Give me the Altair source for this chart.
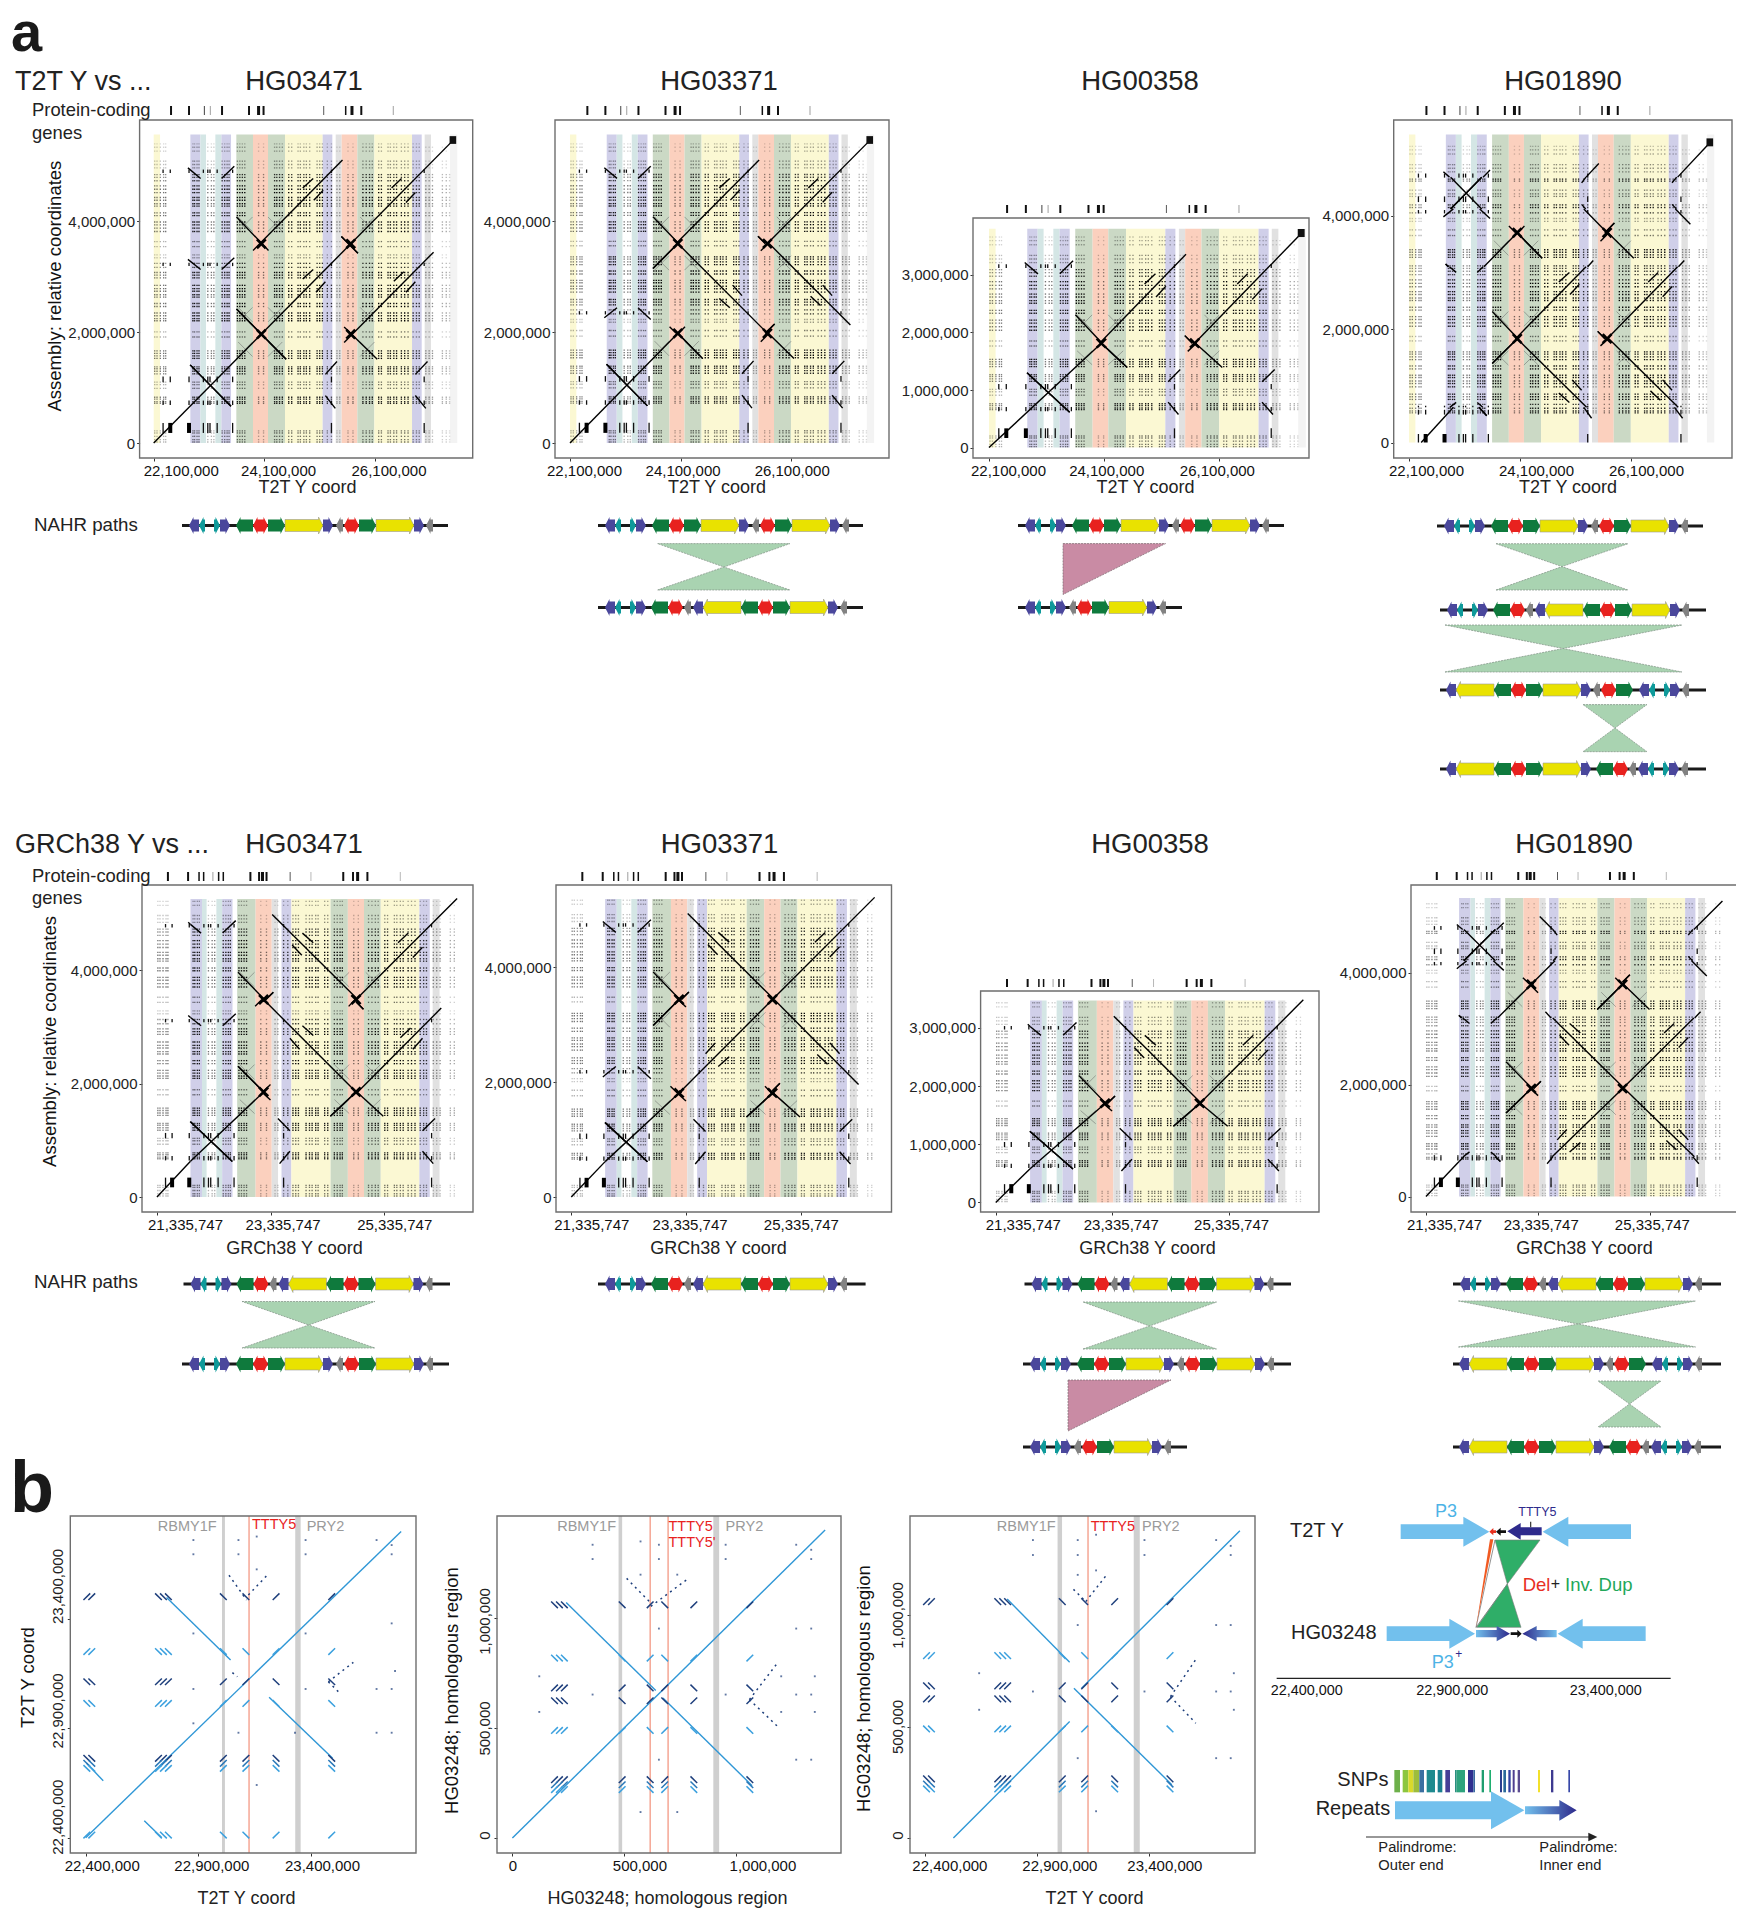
import altair as alt
import pandas as pd

alt.data_transformers.disable_max_rows()

PAGE_W, PAGE_H = 1728, 1904
FONT = "Liberation Sans"

# ---------- panel a: reference features (T2T Y, Mb) ----------
T2T_BANDS = [(22.100,22.215,"Y"),(22.764,22.945,"B"),(22.945,23.048,"T"),(23.217,23.326,"T"),(23.326,23.501,"B"),
             (23.597,23.899,"G"),(23.899,24.171,"R"),(24.171,24.479,"G"),(24.479,25.161,"Y"),(25.161,25.336,"B"),
             (25.397,25.505,"K"),(25.505,25.789,"R"),(25.789,26.097,"G"),(26.097,26.780,"Y"),(26.780,26.955,"B"),
             (27.009,27.124,"K"),(27.468,27.600,"L")]
GRC_BANDS = [(21.925,22.128,"B"),(22.128,22.209,"T"),(22.381,22.483,"T"),(22.483,22.665,"B"),(22.747,23.072,"G"),
             (23.072,23.356,"R"),(23.356,23.467,"K"),(23.528,23.701,"B"),(23.701,24.392,"Y"),(24.392,24.696,"G"),
             (24.696,24.980,"R"),(24.980,25.275,"G"),(25.275,25.955,"Y"),(25.955,26.138,"B"),(26.189,26.310,"K")]
BAND_COL = {"Y":"#fbf8d3","B":"#d0cfe9","T":"#d4e6e5","G":"#cbd9c5","R":"#fbd0be","K":"#e1e1e1","L":"#f3f3f3"}

T2T_GENES = [22.414,22.74,23.018,23.126,23.338,23.827,24.0,24.09,25.18,25.578,25.692,25.861,26.44]
T2T_GENE_W = [2,2,1,1,2,2,3,2,1,1.5,3,2,1]
T2T_GENE_O = [1,1,.8,.4,1,1,1,1,.7,1,1,1,.4]
GRC_GENES = [21.528,21.883,22.076,22.157,22.32,22.421,22.503,22.98,23.133,23.193,23.264,23.68,24.046,24.615,24.787,24.868,25.04,25.619]
GRC_GENE_W = [2,2,1.5,1.5,1,1.5,1.5,2,2,3,2,1,1,2,2,3,2,1]
GRC_GENE_O = [1,1,1,1,.4,1,1,1,1,1,1,.7,.3,1,1,1,1,.3]

# repeat positions seen as dot columns / rows
REPEATS = [22.118,22.16,22.22,22.28,22.317,22.81,22.84,22.885,22.92,23.08,23.145,23.19,23.34,23.386,23.43,23.465,
           23.616,23.66,23.706,23.75,24.0,24.09,24.29,24.33,24.38,24.43,24.546,24.6,24.715,24.757,24.82,24.866,24.926,
           25.06,25.107,25.156,25.246,25.32,25.42,25.47,25.62,25.71,25.89,25.95,26.01,26.06,26.176,26.225,26.345,26.388,
           26.45,26.5,26.587,26.647,26.708,26.8,26.86,26.91,27.03,27.09,27.15,27.33,27.4,27.46]
REPEAT_W = [.55,.55,.55,.55,.55,.9,.9,.9,.9,.55,.55,.55,.9,.9,.9,.9,
            1,1,1,1,.55,.55,1,1,1,1,1,1,1,1,1,1,1,
            1,1,1,.8,.8,.4,.4,.55,.55,1,1,1,1,1,1,1,1,
            1,1,1,1,1,.8,.8,.8,.45,.45,.45,.35,.35,.25]

# long self-alignments of the reference: x from a0 to a1 against y from b0 to b1
HOMOLOGY = [(23.9,25.52,25.55,27.17),(23.6,24.18,26.15,25.55),(23.6,24.5,24.5,23.6),(25.5,25.8,25.8,25.5),
            (22.76,23.5,23.5,22.76),(22.72,22.95,27.03,26.84),(23.33,23.56,26.84,27.06),(22.72,22.95,25.39,25.21),
            (23.33,23.56,25.21,25.42),(24.8,24.99,25.04,25.21),(26.41,26.59,26.67,26.84),(24.8,24.99,26.67,26.84),
            (25.0,25.17,26.45,26.63)]
LOOP_X = [23.76,24.3,25.97]
LOOP_Y = [26.02,24.4,23.78]
AMP_X = [22.27,22.4,22.74,23.0,23.08,23.12,23.25,23.53,25.32,27.0]
AMP_Y = [(22.37,.09),(22.82,.04),(23.24,.05),(25.3,.03),(26.97,.03)]
CORE = [24.05,25.67]

IDENT = [(22.0,27.7,22.0,27.7)]
GRC_MAP = [(22.1,22.764,21.335,21.925),(22.764,24.05,21.925,23.213),(25.67,24.05,23.213,24.84),(25.67,27.45,24.84,26.62)]

PATH1 = [(22.1,27.6,0,5.54)]
PATH2 = [(22.1,24.05,0,1.98),(25.67,24.05,1.98,3.6),(25.67,27.6,3.6,5.54)]
PATH3 = [(22.1,24.05,0,1.81),(25.67,27.6,1.81,3.8)]
PATH4 = [(22.32,22.9,0,.62),(25.3,24.05,.62,1.83),(25.67,26.94,1.83,3.1),(23.45,24.05,3.1,3.7),(25.67,25.25,3.7,4.12),
         (23.41,22.85,4.12,4.68),(26.94,27.6,4.68,5.37)]
PATH5 = [(22.1,24.05,0,1.85),(24.05,25.67,1.85,3.48),(25.67,27.45,3.48,5.26)]
PATH6 = [(22.1,24.05,0,1.81),(25.67,24.05,1.81,3.44),(25.67,27.45,3.44,5.22)]
PATH7 = [(22.1,24.05,0,1.70),(25.67,27.45,1.70,3.48)]
PATH8 = [(22.1,22.85,0,.71),(25.3,24.05,.71,1.93),(25.67,26.94,1.93,3.19),(23.45,24.05,3.19,3.79),(25.67,25.25,3.79,4.21),
         (23.41,22.85,4.21,4.77),(26.94,27.45,4.77,5.28)]

PANELS = [
 dict(f=(139.6,472.7,120,458),x0=22.1,xp=153.7,xs=55.2,yp=443,ys=55.4,yt=[0,2,4],path=PATH1,grc=False,top=5.57,gy=(106,115),off=[27,14,14],ytitle=(57.5,285.6),tx=(307,20.4)),
 dict(f=(555,889,120,458),x0=22.1,xp=570,xs=55.3,yp=443,ys=55.4,yt=[0,2,4],path=PATH2,grc=False,top=5.57,gy=(106,115),off=[14,2,.5],ytitle=None,tx=(716.5,20.4)),
 dict(f=(973,1309,218,458),x0=22.1,xp=989,xs=57.6,yp=447.6,ys=57.6,yt=[0,1,2,3],path=PATH3,grc=False,top=3.8,gy=(205,213),off=[19,2,-2.5],ytitle=None,tx=(1145,20.4)),
 dict(f=(1393.7,1732,120,458),x0=22.1,xp=1409,xs=55.5,yp=442.5,ys=56.7,yt=[0,2,4],path=PATH4,grc=False,top=5.43,gy=(106,115),off=[17,16,15],ytitle=None,tx=(1567.6,20.4)),
 dict(f=(142,473,885,1212),x0=21.335747,xp=157,xs=56.8,yp=1197,ys=56.75,yt=[0,2,4],path=PATH5,grc=True,top=5.25,gy=(872,881),off=[28,12,10],ytitle=(52.7,1041),tx=(294,27)),
 dict(f=(556,891.5,885,1212),x0=21.335747,xp=571.3,xs=57.4,yp=1197,ys=57.4,yt=[0,2,4],path=PATH6,grc=True,top=5.19,gy=(872,881),off=[20,3.5,0],ytitle=None,tx=(718,27)),
 dict(f=(980.6,1319,991,1212),x0=21.335747,xp=995.8,xs=58.2,yp=1202.4,ys=58.2,yt=[0,1,2,3],path=PATH7,grc=True,top=3.47,gy=(979,987),off=[27,8.6,2.5],ytitle=None,tx=(1147,27)),
 dict(f=(1411,1738,885,1212),x0=21.335747,xp=1426,xs=56.1,yp=1196.6,ys=56,yt=[0,2,4],path=PATH8,grc=True,top=5.33,gy=(872,880),off=[18,2.5,1.5],ytitle=None,tx=(1584,27)),
]

layers = []
FRAME = "#6e6e6e"

def blockmap(v, blocks):
    out = []
    for r0, r1, a0, a1 in blocks:
        lo, hi = min(r0, r1), max(r0, r1)
        if lo <= v <= hi:
            out.append(a0 + (v - r0) * (a1 - a0) / (r1 - r0))
    return out

def clip(v0, v1, lo, hi):
    if v0 == v1:
        return (0, 1) if lo <= v0 <= hi else None
    t0, t1 = (lo - v0) / (v1 - v0), (hi - v0) / (v1 - v0)
    a, b = max(min(t0, t1), 0), min(max(t0, t1), 1)
    return (a, b) if b > a else None

def segs(p0, q0, p1, q1, xb, yb):
    res = []
    for xr0, xr1, xa0, xa1 in xb:
        cx = clip(p0, p1, min(xr0, xr1), max(xr0, xr1))
        if not cx:
            continue
        for yr0, yr1, ya0, ya1 in yb:
            cy = clip(q0, q1, min(yr0, yr1), max(yr0, yr1))
            if not cy:
                continue
            a, b = max(cx[0], cy[0]), min(cx[1], cy[1])
            if b <= a:
                continue
            fx = lambda t: xa0 + (p0 + (p1 - p0) * t - xr0) * (xa1 - xa0) / (xr1 - xr0)
            fy = lambda t: ya0 + (q0 + (q1 - q0) * t - yr0) * (ya1 - ya0) / (yr1 - yr0)
            res.append(dict(x=fx(a)*1e6, y=fy(a)*1e6, x2=fx(b)*1e6, y2=fy(b)*1e6))
    return res

def panel_scales(fr, x0, xp, xs, yp, ys, y0=0.0):
    L, R, T, B = fr
    sx = alt.Scale(domain=[(x0 + (L - xp) / xs) * 1e6, (x0 + (R - xp) / xs) * 1e6], range=[L - 8, R - 8], nice=False, zero=False)
    sy = alt.Scale(domain=[(y0 + (yp - B) / ys) * 1e6, (y0 + (yp - T) / ys) * 1e6], range=[B - 8, T - 8], nice=False, zero=False)
    return sx, sy

def offs_expr(ticks, off):
    e = str(off[-1])
    for t, o in list(zip(ticks, off))[:-1][::-1]:
        e = f"datum.value=={t}?{o}:{e}"
    return alt.expr(e)

def seg_layer(rows, sx, sy, color, width, opacity=1, dash=None):
    if not rows:
        return
    kw = dict(color=color, strokeWidth=width, opacity=opacity, clip=False)
    if dash:
        kw["strokeDash"] = dash
    layers.append(alt.Chart(pd.DataFrame(rows)).mark_rule(**kw).encode(
        x=alt.X("x:Q", scale=sx, axis=None), x2="x2:Q",
        y=alt.Y("y:Q", scale=sy, axis=None), y2="y2:Q"))

def frame_layer(fr, sx, sy, xt, xfmt_off, yt, xtitle, tx, ytitle, ypos, yoff=None, yangle=None):
    L, R, T, B = fr
    df = pd.DataFrame([dict(x=sx.domain[0], x2=sx.domain[1], y=sy.domain[0], y2=sy.domain[1])])
    xa = dict(values=xt, format=",d", orient="bottom", offset=-(PAGE_H - (B - 8)), grid=False, domain=False, tickSize=3,
              tickColor="#333", labelFont=FONT, labelFontSize=15, labelColor="#111", labelPadding=2, labelFlush=False,
              labelOverlap=False, title=xtitle, titleFont=FONT, titleFontSize=18, titleFontWeight="normal",
              titleColor="#222", titleX=tx[0] - 8, titleY=tx[1], labelOffset=offs_expr(xt, xfmt_off))
    ya = dict(values=yt, format=",d", orient="left", offset=-(L - 8), grid=False, domain=False, tickSize=3, tickColor="#333",
              labelFont=FONT, labelFontSize=15, labelColor="#222", labelPadding=2, labelOverlap=False,
              titleFont=FONT, titleFontSize=18.5, titleFontWeight="normal", titleColor="#111",
              title=ytitle if ytitle else None)
    if ytitle:
        ya["titleX"] = ypos[0] + 7 - L
        ya["titleY"] = ypos[1] - 8
    if yangle is not None:
        ya["labelAngle"] = yangle
        ya["labelAlign"] = "center"
        ya["labelBaseline"] = "bottom"
    if yoff is not None:
        ya["labelOffset"] = offs_expr(yt, yoff)
    layers.append(alt.Chart(df).mark_rect(fill="transparent", stroke=FRAME, strokeWidth=1.4).encode(
        x=alt.X("x:Q", scale=sx, axis=alt.Axis(**xa)), x2="x2:Q",
        y=alt.Y("y:Q", scale=sy, axis=alt.Axis(**ya)), y2="y2:Q"))

for P in PANELS:
    fr = P["f"]
    sx, sy = panel_scales(fr, P["x0"], P["xp"], P["xs"], P["yp"], P["ys"])
    xb = GRC_MAP if P["grc"] else IDENT
    yb = P["path"]
    # bands
    bands = GRC_BANDS if P["grc"] else T2T_BANDS
    df = pd.DataFrame([dict(x=a*1e6, x2=b*1e6, y=0, y2=P["top"]*1e6, c=BAND_COL[k]) for a, b, k in bands])
    layers.append(alt.Chart(df).mark_rect().encode(
        x=alt.X("x:Q", scale=sx, axis=None), x2="x2:Q", y=alt.Y("y:Q", scale=sy, axis=None), y2="y2:Q",
        color=alt.Color("c:N", scale=None)))
    # dots: every repeat column against every repeat row
    rows = []
    for rx, wx in zip(REPEATS, REPEAT_W):
        for vx in blockmap(rx, xb):
            for ry, wy in zip(REPEATS, REPEAT_W):
                o = wx * wy
                if o < .12:
                    continue
                for vy in blockmap(ry, yb):
                    rows.append(dict(x=round(vx*1e6), y=round(vy*1e6), o=round(o, 2)))
    layers.append(alt.Chart(pd.DataFrame(rows)).mark_square(size=1.8, color="#000", strokeWidth=0).encode(
        x=alt.X("x:Q", scale=sx, axis=None), y=alt.Y("y:Q", scale=sy, axis=None), opacity=alt.Opacity("o:Q", scale=None)))
    # grey loops
    rows = []
    for c in LOOP_X:
        for r in LOOP_Y:
            rows += segs(c-.13, r-.13, c+.13, r+.13, xb, yb) + segs(c-.13, r+.13, c+.13, r-.13, xb, yb)
    seg_layer(rows, sx, sy, "#666", .7, .75)
    # short ampliconic bars
    rows = []; big = []
    for c in AMP_X:
        for r, h in AMP_Y:
            s = segs(c, r-h, c, r+h, xb, yb)
            (big if (h > .08 and c in (22.4, 22.74)) else rows).extend(s)
    seg_layer(rows, sx, sy, "#111", 1.3)
    seg_layer(big, sx, sy, "#000", 4)
    # alignment lines
    rows = segs(22.1, 22.1, 27.55, 27.55, xb, yb)
    for a0, a1, b0, b1 in HOMOLOGY:
        rows += segs(a0, b0, a1, b1, xb, yb) + segs(b0, a0, b1, a1, xb, yb)
    seg_layer(rows, sx, sy, "#000", 1.4)
    # dense cores where the palindrome arms cross
    rows = []
    for c in CORE:
        for r in CORE:
            rows += segs(c-.08, r-.08, c+.08, r+.08, xb, yb) + segs(c-.08, r+.08, c+.08, r-.08, xb, yb)
    seg_layer(rows, sx, sy, "#000", 2.6)
    if not P["grc"]:
        ye = blockmap(27.46, yb)[-1]
        df = pd.DataFrame([dict(x=27.46e6, x2=27.58e6, y=ye*1e6, y2=(ye+.14)*1e6)])
        layers.append(alt.Chart(df).mark_rect(color="#111").encode(
            x=alt.X("x:Q", scale=sx, axis=None), x2="x2:Q", y=alt.Y("y:Q", scale=sy, axis=None), y2="y2:Q"))
    # protein-coding genes above the frame
    g, gw, go = (GRC_GENES, GRC_GENE_W, GRC_GENE_O) if P["grc"] else (T2T_GENES, T2T_GENE_W, T2T_GENE_O)
    df = pd.DataFrame(dict(x=[v*1e6 for v in g], w=gw, o=go, lo=0, hi=1))
    gs = alt.Scale(domain=[0, 1], range=[P["gy"][1]-8, P["gy"][0]-8])
    layers.append(alt.Chart(df).mark_rule(color="#111").encode(
        x=alt.X("x:Q", scale=sx, axis=None), y=alt.Y("lo:Q", scale=gs, axis=None), y2="hi:Q",
        strokeWidth=alt.StrokeWidth("w:Q", scale=None), opacity=alt.Opacity("o:Q", scale=None)))
    # frame and axes
    x0 = P["x0"]
    xt = [round(x0*1e6), round((x0+2)*1e6), round((x0+4)*1e6)]
    frame_layer(fr, sx, sy, xt, P["off"], [v*1000000 for v in P["yt"]],
                "GRCh38 Y coord" if P["grc"] else "T2T Y coord", P["tx"],
                "Assembly: relative coordinates" if P["ytitle"] else None, P["ytitle"])

# ---------- panel a: NAHR tracks ----------
S0 = "B- T- _9 T+ B+ _6 G- R G+ Y+ B+ _3 g- _1 R G+ Y+ B+ _2 g-"
S1 = "B- T- _9 T+ B+ _5 G- R _1 g- _2 B- Y- G- R G+ Y+ B+ _2 g-"
S2 = "B- T- _9 T+ B+ _3 g- _1 R G+ Y+ B+ _2 g-"
S3 = "B- Y- G- R G+ Y+ B+ _2 g- _1 R G+ _6 B- T- _9 T+ B+ _2 g-"
S4 = "B- Y- G- R G+ Y+ B+ _5 G- R _1 g- _2 B- T- _9 T+ B+ _2 g-"
KIND_LEN = {"B":10,"T":6,"G":17,"R":15,"Y":38,"g":7}
KIND_COL = {"B":"#4a479c","T":"#0e9a9a","G":"#0f7a3d","R":"#e8221f","Y":"#e9e200","g":"#828282"}
TRACKS = [(182,448,525.5,S0,7),(598,863,525.5,S0,7),(598,863,607.5,S1,7),(1018,1284,525.5,S0,7),(1018,1182,607.5,S2,7),
          (1437,1703,526,S0,7),(1440,1706,610,S1,7),(1440,1706,690,S3,6),(1440,1706,769,S4,6),
          (183.5,450,1284,S1,7),(182,449,1364,S0,7),(598,865.6,1284,S1,7),
          (1024.5,1291,1284,S1,7),(1023,1291,1364,S0,7),(1023,1187,1447,S2,7),
          (1453,1721,1284,S1,7),(1453,1721,1364,S3,6),(1453,1721,1447,S4,6)]
HOURGLASS = [(657.5,790,724,543.6,590,567),(1496,1628,1562,543.7,590,566.6),(1445,1682,1563,625,672,648.5),(1583,1647,1615,704.6,751.7,728),
             (242,375,308.7,1301.5,1348,1325),(1083,1216.6,1149.5,1302,1349,1326),(1458.5,1695.5,1578,1301,1347,1324),(1598,1661,1629.5,1381,1427,1404)]
DELETIONS = [(1063,1165.5,543.6,594.5),(1068,1171,1380,1431)]

page_x = alt.Scale(domain=[0, 1744], range=[-8, 1736], nice=False, zero=False)
page_y = alt.Scale(domain=[0, 1920], range=[-8, 1912], nice=False, zero=False)

shapes, grp = [], 0
def strict(pts):
    out, last = [], None
    for x, y, y2 in pts:
        if last is not None and x <= last:
            x = last + .02
        out.append((x, y, y2)); last = x
    return out

def poly(pts, fill, stroke="transparent"):
    global grp
    grp += 1
    for x, y, y2 in strict(pts):
        shapes.append(dict(x=x, y=y, y2=y2, id=grp, fill=fill, stroke=stroke))

def page_rule(rows, color, width):
    layers.append(alt.Chart(pd.DataFrame(rows)).mark_rule(color=color, strokeWidth=width).encode(
        x=alt.X("x:Q", scale=page_x, axis=None), x2="x2:Q", y=alt.Y("y:Q", scale=page_y, axis=None), y2="y2:Q"))

rows = [dict(x=a, x2=b, y=y, y2=y) for a, b, y, _, _ in TRACKS]
page_rule(rows, "#1a1a1a", 3)
for a, b, yc, seq, start in TRACKS:
    x = a + start
    for tok in seq.split():
        if tok[0] == "_":
            x += float(tok[1:]); continue
        k = tok[0]; L = KIND_LEN[k]; bh, fh, h = 6, 8.5, 4.5
        st = "#9a9a9a" if k == "Y" else "transparent"
        if tok == "R":
            pts = [(x,yc,yc),(x+h,yc-fh,yc+fh),(x+h,yc-bh,yc+bh),(x+L-h,yc-bh,yc+bh),(x+L-h,yc-fh,yc+fh),(x+L,yc,yc)]
        elif tok[1] == "+":
            pts = [(x,yc-bh,yc+bh),(x+L-h,yc-bh,yc+bh),(x+L-h,yc-fh,yc+fh),(x+L,yc,yc)]
        else:
            pts = [(x,yc,yc),(x+h,yc-fh,yc+fh),(x+h,yc-bh,yc+bh),(x+L,yc-bh,yc+bh)]
        poly(pts, KIND_COL[k], st)
        x += L

tri = []
def tri_add(pts, rows_out, key):
    for x, y, y2 in pts:
        rows_out.append(dict(x=x, y=y, y2=y2, id=key))
for n, (x0, x1, xa, t, b, ya) in enumerate(HOURGLASS):
    tri_add([(x0,t,t),(xa,t,ya),(x1,t,t)], tri, f"t{n}")
    tri_add([(x0,b,b),(xa,ya,b),(x1,b,b)], tri, f"b{n}")
area_enc = dict(x=alt.X("x:Q", scale=page_x, axis=None), y=alt.Y("y:Q", scale=page_y, axis=None), y2="y2:Q", detail="id:N")
layers.append(alt.Chart(pd.DataFrame(tri)).mark_area(color="#a9d3b1", stroke="#7f8f84", strokeWidth=.7, strokeDash=[2,1]).encode(**area_enc))
dl = []
for n, (x0, x1, t, b) in enumerate(DELETIONS):
    tri_add([(x0,t,b),(x1,t,t)], dl, f"d{n}")
layers.append(alt.Chart(pd.DataFrame(dl)).mark_area(color="#c98ba4", stroke="#7a6a70", strokeWidth=.7, strokeDash=[2,1]).encode(**area_enc))

# ---------- panel b: dot plots ----------
LINE_BLUE, DARK, MID, LIGHT = "#2f97d6", "#1e3f7c", "#2a78b8", "#3ba0de"
SHADE = {"d":DARK,"m":MID,"l":LIGHT}

REF_COLS = [(22.416,2,1),(22.745,3,-1),(23.011,1,-1),(23.111,1,-1),(23.245,1,1),(23.492,1,1)]
REF_ROWS = [(22.412,1,"l"),(22.763,-1,"d"),(22.74,-1,"m"),(22.717,-1,"l"),(23.014,-1,"l"),(23.113,-1,"d"),(23.251,1,"l"),(23.502,1,"d")]
HG_COLS = [(.21,3,1),(.49,1,1),(.615,1,-1),(.68,1,1),(.81,1,-1),(1.06,1,-1)]
HG_ROWS_P2 = [(.265,1,"d"),(.242,1,"m"),(.22,1,"l"),(.489,1,"l"),(.624,-1,"d"),(.682,1,"d"),(.818,-1,"l"),(1.06,-1,"d")]
HG_ROWS_P3 = [(.265,-1,"d"),(.242,-1,"m"),(.22,-1,"l"),(.489,-1,"l"),(.624,1,"d"),(.682,-1,"d"),(.818,1,"l"),(1.06,1,"d")]

B1_MAIN = [(22.4,22.4,23.8,23.8),(22.759,23.498,23.043,23.212),(23.214,23.042,23.496,22.763),(22.404,22.74,22.478,22.66),(22.66,22.478,22.737,22.401)]
B1_CHEV = [(23.036,23.6,23.114,23.487),(23.122,23.51,23.211,23.606),(23.477,23.113,23.588,23.202),(23.477,23.113,23.526,23.063),(23.051,23.155,23.073,23.136)]
B1_DOTX = [22.878,23.078,23.159,23.376,23.691,22.878,23.078,23.376,23.758,23.758,23.159,23.758,22.878,23.376,23.773,22.878,23.376,23.691,23.758,22.878,23.078,23.329,23.691,23.758,23.159]
B1_DOTY = [23.761,23.761,23.777,23.761,23.761,23.696,23.696,23.696,23.738,23.696,23.627,23.38,23.334,23.334,23.162,23.08,23.08,23.08,23.08,22.923,22.88,22.88,22.88,22.88,22.641]
B2_MAIN = [(0,0,1.396,1.40),(.24,1.07,.64,.67),(.672,.636,1.07,.238)]
B2_CHEV = [(.51,1.18,.618,1.068),(.618,1.053,.786,1.18),(1.058,.629,1.183,.795),(1.058,.629,1.183,.508)]
B2_DOTX = [.358,.572,.654,.952,1.267,1.334,.358,.654,.952,1.334,.572,.736,.654,1.267,1.334,.12,1.2,1.35,.358,.952,1.267,1.334,.12,1.2,1.35,.654,1.267,1.334,.572,.736]
B2_DOTY = [1.333,1.348,1.333,1.333,1.333,1.31,1.268,1.268,1.268,1.268,1.197,1.197,.952,.952,.952,.735,.735,.735,.652,.652,.652,.652,.573,.573,.573,.356,.356,.356,.118,.118]
B3_MAIN = [(22.525,0,23.044,.522),(23.097,.672,23.804,1.378),(22.765,1.072,23.044,.788),(23.063,.672,23.5,.239)]
B3_CHEV = [(23.061,1.115,23.116,1.06),(23.116,1.06,23.212,1.184),(23.494,.634,23.607,.8),(23.494,.634,23.607,.515)]
B3_DOTX = [22.88,23.08,23.162,23.378,23.698,23.763,22.88,23.08,23.378,23.763,23.08,23.162,23.08,23.698,23.763,22.64,23.777,22.88,23.378,23.698,23.763,22.64,23.777,23.08,23.698,23.763,23.162]
B3_DOTY = [1.336,1.336,1.36,1.336,1.336,1.31,1.269,1.269,1.269,1.269,1.18,1.2,.955,.955,.955,.739,.739,.657,.657,.657,.657,.575,.575,.358,.358,.358,.12]

BPLOTS = [
 dict(f=(70.3,416,1516,1853),x0=22.4,xp=85.7,xs=225.3,y0=22.4,yp=1837.7,ys=218.7,cols=REF_COLS,rows=REF_ROWS,main=B1_MAIN,chev=B1_CHEV,dx=B1_DOTX,dy=B1_DOTY,
      bands=[(23.005,23.018),(23.33,23.354)],reds=[23.125],xt=[22400000,22900000,23400000],yt=[22400000,22900000,23400000],off=[16,13,11],yoff=[-21,-18,-33],
      xtitle="T2T Y coord",ytitle="T2T Y coord",tx=(246,36),ty=(30.6,1677)),
 dict(f=(497,841,1516,1853),x0=0,xp=512.4,xs=224,y0=0,yp=1838,ys=220,cols=HG_COLS,rows=HG_ROWS_P2,main=B2_MAIN,chev=B2_CHEV,dx=B2_DOTX,dy=B2_DOTY,
      bands=[(.474,.49),(.897,.923)],reds=[.615,.695],xt=[0,500000,1000000],yt=[0,500000,1000000],off=[0,15,26],yoff=[-3,0,3],
      xtitle="HG03248; homologous region",ytitle="HG03248; homologous region",tx=(667,36),ty=(454,1690)),
 dict(f=(910,1255,1516,1853),x0=22.4,xp=925.4,xs=224,y0=0,yp=1838,ys=223,cols=REF_COLS,rows=HG_ROWS_P3,main=B3_MAIN,chev=B3_CHEV,dx=B3_DOTX,dy=B3_DOTY,
      bands=[(22.99,23.01),(23.33,23.357)],reds=[23.126],xt=[22400000,22900000,23400000],yt=[0,500000,1000000],off=[24,22,15],yoff=[-3,0,0],
      xtitle="T2T Y coord",ytitle="HG03248; homologous region",tx=(1094,36),ty=(866,1688)),
]

for Q in BPLOTS:
    fr = Q["f"]
    sx, sy = panel_scales(fr, Q["x0"], Q["xp"], Q["xs"], Q["yp"], Q["ys"], Q["y0"])
    ymin, ymax = sy.domain
    df = pd.DataFrame([dict(x=a*1e6, x2=b*1e6, y=ymin, y2=ymax) for a, b in Q["bands"]])
    layers.append(alt.Chart(df).mark_rect(color="#cfcfcf").encode(
        x=alt.X("x:Q", scale=sx, axis=None), x2="x2:Q", y=alt.Y("y:Q", scale=sy, axis=None), y2="y2:Q"))
    seg_layer([dict(x=v*1e6, x2=v*1e6, y=ymin, y2=ymax) for v in Q["reds"]], sx, sy, "#f2907a", 1.2)
    seg_layer([dict(x=a*1e6, y=b*1e6, x2=c*1e6, y2=d*1e6) for a, b, c, d in Q["main"]], sx, sy, LINE_BLUE, 1.4)
    stripes = {"d":[], "m":[], "l":[]}
    for c, n, sc in Q["cols"]:
        for r, sr, sh in Q["rows"]:
            sg = sc * sr
            for i in range(n):
                cx = c + (i - (n-1)/2) * .022
                stripes[sh].append(dict(x=(cx-.015)*1e6, y=(r-sg*.015)*1e6, x2=(cx+.015)*1e6, y2=(r+sg*.015)*1e6))
    for k, v in stripes.items():
        seg_layer(v, sx, sy, SHADE[k], 1.5)
    seg_layer([dict(x=a*1e6, y=b*1e6, x2=c*1e6, y2=d*1e6) for a, b, c, d in Q["chev"]], sx, sy, DARK, 1.5, dash=[2, 4])
    df = pd.DataFrame(dict(x=[v*1e6 for v in Q["dx"]], y=[v*1e6 for v in Q["dy"]]))
    layers.append(alt.Chart(df).mark_square(size=3.5, color=DARK, strokeWidth=0).encode(
        x=alt.X("x:Q", scale=sx, axis=None), y=alt.Y("y:Q", scale=sy, axis=None)))
    frame_layer(fr, sx, sy, Q["xt"], Q["off"], Q["yt"], Q["xtitle"], Q["tx"], Q["ytitle"], Q["ty"], yoff=Q["yoff"], yangle=270)

# ---------- panel b: schematic on the right (drawing units of the schematic) ----------
def zx(z): return 1260 + z / 3
def zy(z): return 1480 + z / 3

P3_BLUE = "#72c0ed"; NAVY = "#2e2a8c"
def harrow(x0, xf, xt, yc, b, f, col):
    """arrow in schematic units; x0 tail, xf flare, xt tip"""
    if xt > xf:
        pts = [(x0,yc-b,yc+b),(xf,yc-b,yc+b),(xf,yc-f,yc+f),(xt,yc,yc)]
    else:
        pts = [(xt,yc,yc),(xf,yc-f,yc+f),(xf,yc-b,yc+b),(x0,yc-b,yc+b)]
    poly([(zx(a), zy(c), zy(d)) for a, c, d in pts], col)

ARROWS = [(422,610,688,155,22,45,P3_BLUE),(1113,925,848,155,22,45,P3_BLUE),(380,568,645,461,22,45,P3_BLUE),(1157,968,893,461,22,45,P3_BLUE),
          (845,782,742,154,12,25,NAVY),(738,722,708,155,4,12,"#111"),(708,700,688,155,4,11,"#e8301f"),
          (752,772,785,461,4,12,"#111"),(405,693,793,991,27,57,P3_BLUE)]
for a in ARROWS:
    harrow(*a)
GREEN_TRIS = [[(705,180,180),(742,180,312),(840,180,180)],[(650,442,442),(742,312,442),(783,442,442)]]
for t in GREEN_TRIS:
    poly([(zx(a), zy(b), zy(c)) for a, b, c in t], "#2fae68", "#7a7a7a")
poly([(zx(a), zy(b), zy(c)) for a, b, c in [(648,442,442),(690,178,229),(700,178,178)]], "#f15a22")
WHITE_EDGES = [(648,442,705,180),(648,442,742,312)]
page_rule([dict(x=zx(a), y=zy(b), x2=zx(c), y2=zy(d)) for a, b, c, d in WHITE_EDGES], "#777", .8)

layers.append(alt.Chart(pd.DataFrame(shapes)).mark_area(strokeWidth=.6).encode(
    x=alt.X("x:Q", scale=page_x, axis=None), y=alt.Y("y:Q", scale=page_y, axis=None), y2="y2:Q",
    detail="id:N", color=alt.Color("fill:N", scale=None), stroke=alt.Stroke("stroke:N", scale=None)))

def grad(c0, c1):
    return alt.LinearGradient(gradient="linear", x1=0, x2=1, y1=0, y2=0,
                              stops=[alt.GradientStop(color=c0, offset=0), alt.GradientStop(color=c1, offset=1)])
GRAD_ARROWS = [(648,710,750,461,11,23,P3_BLUE,NAVY),(890,830,787,461,11,23,NAVY,P3_BLUE),(795,898,950,991,12,31,P3_BLUE,NAVY)]
for n, (x0, xf, xt, yc, b, f, c0, c1) in enumerate(GRAD_ARROWS):
    if xt > xf:
        pts = [(x0,yc-b,yc+b),(xf,yc-b,yc+b),(xf,yc-f,yc+f),(xt,yc,yc)]
    else:
        pts = [(xt,yc,yc),(xf,yc-f,yc+f),(xf,yc-b,yc+b),(x0,yc-b,yc+b)]
    df = pd.DataFrame([dict(x=zx(a), y=zy(c), y2=zy(d), id=n) for a, c, d in strict(pts)])
    layers.append(alt.Chart(df).mark_area(color=grad(c0, c1)).encode(**area_enc))

page_rule([dict(x=zx(50), x2=zx(1232), y=zy(595), y2=zy(595))], "#222", 1.4)
page_rule([dict(x=zx(318), x2=zx(990), y=zy(1071), y2=zy(1071)), dict(x=zx(812), x2=zx(812), y=zy(125), y2=zy(142))], "#333", 1.2)
poly_tip = [(zx(985),zy(1058),zy(1084)),(zx(1012),zy(1071),zy(1071))]
layers.append(alt.Chart(pd.DataFrame([dict(x=a,y=b,y2=c,id=0) for a,b,c in poly_tip])).mark_area(color="#222").encode(**area_enc))

SNP_X0 = [403,428,445,460,478,500,533,556,585,590,624,640,665,688,720,730,745,758,773,834,873,925]
SNP_X1 = [420,445,460,478,492,525,547,570,590,615,640,645,672,693,726,738,752,764,780,840,880,930]
SNP_COL = ["#6db04a","#8cc63f","#d9d92b","#9dbd3c","#3b6fa0","#1f8a8f","#1a7f8f","#463f97","#2a8f7f","#2da37d","#2f2f8f","#3b6aa0",
           "#1f9e70","#1fae70","#2b3f8f","#2b6a9a","#3040a0","#4f3f90","#5a4a90","#f2e02b","#3d3a90","#3848a8"]
df = pd.DataFrame(dict(x=[zx(v) for v in SNP_X0], x2=[zx(v) for v in SNP_X1], c=SNP_COL, y=zy(870), y2=zy(937)))
layers.append(alt.Chart(df).mark_rect().encode(
    x=alt.X("x:Q", scale=page_x, axis=None), x2="x2:Q", y=alt.Y("y:Q", scale=page_y, axis=None), y2="y2:Q",
    color=alt.Color("c:N", scale=None)))

# ---------- all text set by hand ----------
TEXTS = [
 (11,51,"a",56,"#1a1a1a","left","bold","alphabetic"),(10,1512,"b",72,"#1a1a1a","left","bold","alphabetic"),
 (15,82,"T2T Y vs ...",27,"#222","left","normal","middle"),(15,845,"GRCh38 Y vs ...",27,"#222","left","normal","middle"),
 (304,82,"HG03471",27.5,"#222","center","normal","middle"),(719,82,"HG03371",27.5,"#222","center","normal","middle"),
 (1140,82,"HG00358",27.5,"#222","center","normal","middle"),(1563,82,"HG01890",27.5,"#222","center","normal","middle"),
 (304,845,"HG03471",27.5,"#222","center","normal","middle"),(719.5,845,"HG03371",27.5,"#222","center","normal","middle"),
 (1150,845,"HG00358",27.5,"#222","center","normal","middle"),(1574,845,"HG01890",27.5,"#222","center","normal","middle"),
 (32,110,"Protein-coding",18.4,"#222","left","normal","middle"),(32,133,"genes",18.4,"#222","left","normal","middle"),
 (32,876,"Protein-coding",18.4,"#222","left","normal","middle"),(32,898,"genes",18.4,"#222","left","normal","middle"),
 (34,525,"NAHR paths",18.7,"#222","left","normal","middle"),(34,1282,"NAHR paths",18.7,"#222","left","normal","middle"),
 (216.7,1527,"RBMY1F",14.5,"#9a9a9a","right","normal","middle"),(252,1525,"TTTY5",14.5,"#e8231f","left","normal","middle"),(306.7,1527,"PRY2",14.5,"#9a9a9a","left","normal","middle"),
 (616,1527,"RBMY1F",14.5,"#9a9a9a","right","normal","middle"),(668.5,1527,"TTTY5",14.5,"#e8231f","left","normal","middle"),(668.5,1543,"TTTY5'",14.5,"#e8231f","left","normal","middle"),(725.6,1527,"PRY2",14.5,"#9a9a9a","left","normal","middle"),
 (1055.7,1527,"RBMY1F",14.5,"#9a9a9a","right","normal","middle"),(1090.7,1527,"TTTY5",14.5,"#e8231f","left","normal","middle"),(1142,1527,"PRY2",14.5,"#9a9a9a","left","normal","middle"),
 (zx(90),zy(153),"T2T Y",20,"#222","left","normal","middle"),(zx(93),zy(460),"HG03248",20,"#222","left","normal","middle"),
 (zx(525),zy(97),"P3",18,"#4db3e6","left","normal","middle"),(zx(515),zy(550),"P3",18,"#4db3e6","left","normal","middle"),(zx(586),zy(522),"+",12,"#2e2a8c","left","normal","middle"),
 (zx(775),zy(97),"TTTY5",12.5,"#2e2a8c","left","normal","middle"),
 (zx(788),zy(315),"Del",18.5,"#e8301f","left","normal","middle"),(zx(872),zy(312),"+",16,"#222","left","normal","middle"),(zx(915),zy(315),"Inv. Dup",18.5,"#22a85a","left","normal","middle"),
 (zx(140),zy(632),"22,400,000",14.4,"#111","center","normal","middle"),(zx(577),zy(632),"22,900,000",14.4,"#111","center","normal","middle"),(zx(1037),zy(632),"23,400,000",14.4,"#111","center","normal","middle"),
 (zx(232),zy(900),"SNPs",20,"#222","left","normal","middle"),(zx(167),zy(987),"Repeats",20,"#222","left","normal","middle"),
 (zx(355),zy(1103),"Palindrome:",14.7,"#222","left","normal","middle"),(zx(355),zy(1157),"Outer end",14.7,"#222","left","normal","middle"),
 (zx(838),zy(1103),"Palindrome:",14.7,"#222","left","normal","middle"),(zx(838),zy(1157),"Inner end",14.7,"#222","left","normal","middle"),
]
td = pd.DataFrame(TEXTS, columns=["x","y","t","s","c","al","w","bl"])
for (al, w, bl), g in td.groupby(["al","w","bl"]):
    layers.append(alt.Chart(g).mark_text(align=al, fontWeight=w, baseline=bl, font=FONT).encode(
        x=alt.X("x:Q", scale=page_x, axis=None), y=alt.Y("y:Q", scale=page_y, axis=None),
        text="t:N", size=alt.Size("s:Q", scale=None), color=alt.Color("c:N", scale=None)))

chart = (alt.layer(*layers)
         .properties(width=PAGE_W, height=PAGE_H, padding=0, autosize=alt.AutoSizeParams(type="none"))
         .resolve_scale(x="independent", y="independent")
         .resolve_axis(x="independent", y="independent")
         .configure_view(stroke=None))
chart.save("out.html", embed_options={"renderer": "svg", "actions": False})
